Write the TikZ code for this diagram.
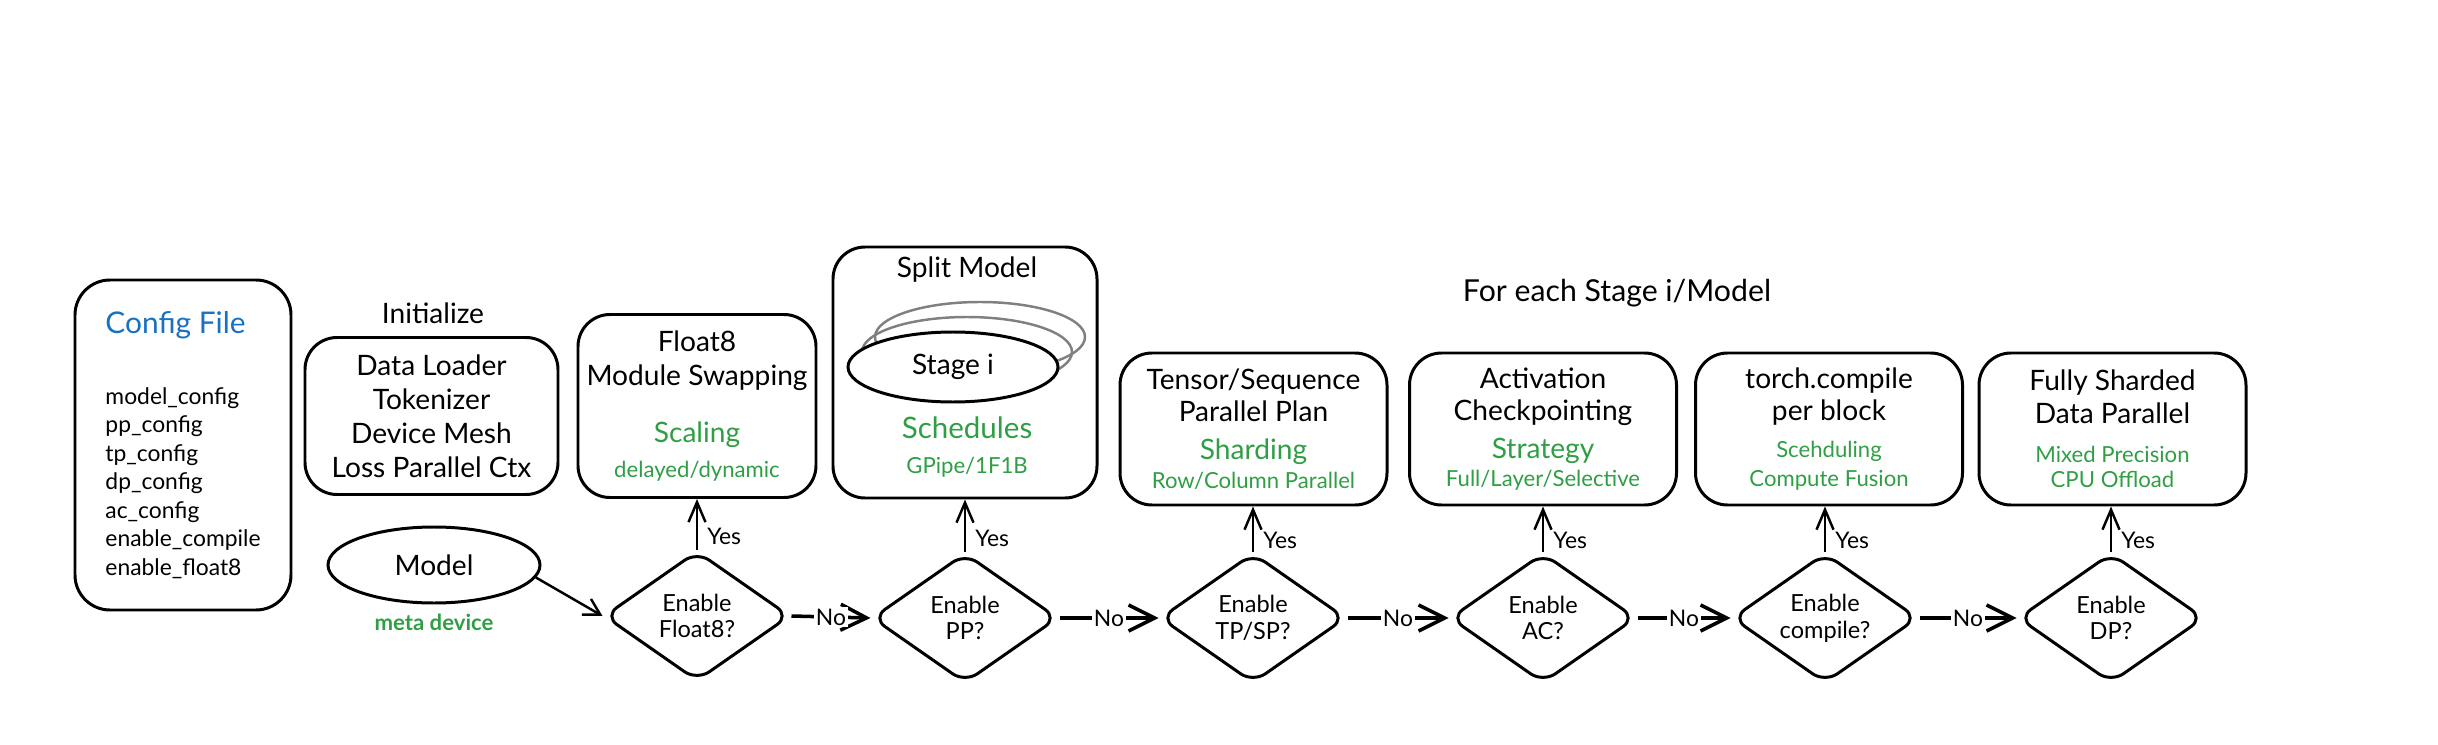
\documentclass[tikz,border=0pt]{standalone}
\usepackage{fontspec}
\setmainfont{Lato}
\usepackage{xcolor}
\usepackage{tikz}
\usetikzlibrary{shapes.geometric, positioning, arrows.meta}

\definecolor{cfgblue}{HTML}{1971C2}
\definecolor{notegreen}{HTML}{2F9E44}
\newcommand{\gmain}[1]{{\color{notegreen}#1}}
\newcommand{\gsmall}[1]{{\color{notegreen}\fontsize{6.3}{7.6}\selectfont #1}}

\begin{document}
\begin{tikzpicture}[
        every node/.style={inner sep=0pt, align=center, font=\fontsize{8}{9.9}\selectfont},
        box/.style={draw, line width=0.85pt, rounded corners=3.2mm},
        stepbox/.style={box, minimum width=26.7mm, minimum height=15.2mm, font=\fontsize{8}{9.2}\selectfont},
        decision/.style={diamond, draw, line width=0.85pt, rounded corners=1.5mm, aspect=1.4,
            minimum width=18.6mm, minimum height=13mm, font=\fontsize{6.7}{7.6}\selectfont},
        stagebk/.style={ellipse, draw=black!50, line width=0.7pt, minimum width=21mm, minimum height=7mm},
        lbl/.style={font=\fontsize{6.5}{7.5}\selectfont, inner sep=0.6pt},
        yesarr/.style={draw, line width=0.7pt, -{Straight Barb[length=2mm, width=1.7mm]}},
        noarr/.style={draw, line width=1pt, -{Straight Barb[length=2.6mm, width=2.6mm]}},
        modelarr/.style={draw, line width=0.7pt, -{Straight Barb[length=1.6mm, width=1.8mm]}}
    ]
    \useasboundingbox (0,0) rectangle (24.38,7.44);

    \node[box, rounded corners=3.5mm, minimum width=21.6mm, minimum height=33mm, align=left,
        font=\fontsize{6.5}{8.1}\selectfont] (cfg) at (1.83,2.99)
        {{\color{cfgblue}\fontsize{8.5}{8.1}\selectfont Config File}\\[12pt]
         model\_config\\pp\_config\\tp\_config\\dp\_config\\ac\_config\\enable\_compile\\enable\_float8};

    \node (initlbl) at (4.33,4.31) {Initialize};
    \node[box, minimum width=25.3mm, minimum height=15.7mm, font=\fontsize{8}{9.7}\selectfont] (init) at (4.315,3.28)
        {Data Loader\\Tokenizer\\Device Mesh\\Loss Parallel Ctx};

    \node[ellipse, draw, line width=0.85pt, minimum width=21.2mm, minimum height=7.6mm] (model) at (4.34,1.79) {Model};
    \node[below=0.9mm of model, font=\bfseries\fontsize{6.3}{7}\selectfont, text=notegreen] (meta) {meta device};

    \node[box, minimum width=23.8mm, minimum height=18.3mm] (fl8box) at (6.97,3.38)
        {Float8\\Module Swapping\\[6.3pt]\gmain{Scaling}\\\gsmall{delayed/dynamic}};

    \node[box, minimum width=26.4mm, minimum height=25.1mm] (split) at (9.65,3.715) {};
    \node (splitlbl) at (9.67,4.74) {Split Model};
    \node[stagebk] (stage2) at (9.80,4.07) {};
    \node[stagebk] (stage1) at (9.67,3.92) {};
    \node[ellipse, draw, fill=white, line width=0.85pt, minimum width=21mm, minimum height=7mm] (stage) at (9.53,3.77) {Stage i};
    \node (sched) at (9.67,2.97) {\gmain{\fontsize{8.4}{10}\selectfont Schedules}\\\gsmall{GPipe/1F1B}};

    \node[font=\fontsize{8.6}{10}\selectfont] (foreach) at (16.17,4.51) {For each Stage i/Model};

    \node[stepbox] (tsp) at (12.535,3.15)
        {Tensor/Sequence\\Parallel Plan\\[1.6pt]\gmain{Sharding}\\[-1.2pt]\gsmall{Row/Column Parallel}};
    \node[stepbox] (ackp) at (15.43,3.15)
        {Activation\\Checkpointing\\[1.6pt]\gmain{Strategy}\\[-1.2pt]\gsmall{Full/Layer/Selective}};
    \node[stepbox] (tcomp) at (18.29,3.15)
        {torch.compile\\per block\\[1.4pt]\gsmall{Scehduling}\\[-1pt]\gsmall{Compute Fusion}};
    \node[stepbox] (fsdp) at (21.125,3.15)
        {Fully Sharded\\Data Parallel\\[1.9pt]\gsmall{Mixed Precision}\\[-2pt]\gsmall{CPU Offload}};

    \node[decision] (df8) at (6.97,1.28) {Enable\\Float8?};
    \node[decision] (dpp) at (9.65,1.26) {Enable\\PP?};
    \node[decision] (dtp) at (12.53,1.26) {Enable\\TP/SP?};
    \node[decision] (dac) at (15.43,1.26) {Enable\\AC?};
    \node[decision] (dcmp) at (18.25,1.26) {Enable\\compile?};
    \node[decision] (ddp) at (21.11,1.26) {Enable\\DP?};

    \draw[modelarr] (model.-7) -- (df8.west);

    \draw[yesarr] (df8.north) -- (df8.north |- fl8box.south) node[lbl, pos=0.25, right=2pt] {Yes};
    \draw[yesarr] (dpp.north) -- (dpp.north |- split.south) node[lbl, pos=0.25, right=2pt] {Yes};
    \draw[yesarr] (dtp.north) -- (dtp.north |- tsp.south) node[lbl, pos=0.25, right=2pt] {Yes};
    \draw[yesarr] (dac.north) -- (dac.north |- ackp.south) node[lbl, pos=0.25, right=2pt] {Yes};
    \draw[yesarr] (dcmp.north) -- (dcmp.north |- tcomp.south) node[lbl, pos=0.25, right=2pt] {Yes};
    \draw[yesarr] (ddp.north) -- (ddp.north |- fsdp.south) node[lbl, pos=0.25, right=2pt] {Yes};

    \draw[noarr] (df8.east) -- (dpp.west) node[lbl, midway, fill=white] {No};
    \draw[noarr] (dpp.east) -- (dtp.west) node[lbl, midway, fill=white] {No};
    \draw[noarr] (dtp.east) -- (dac.west) node[lbl, midway, fill=white] {No};
    \draw[noarr] (dac.east) -- (dcmp.west) node[lbl, midway, fill=white] {No};
    \draw[noarr] (dcmp.east) -- (ddp.west) node[lbl, midway, fill=white] {No};
\end{tikzpicture}
\end{document}
